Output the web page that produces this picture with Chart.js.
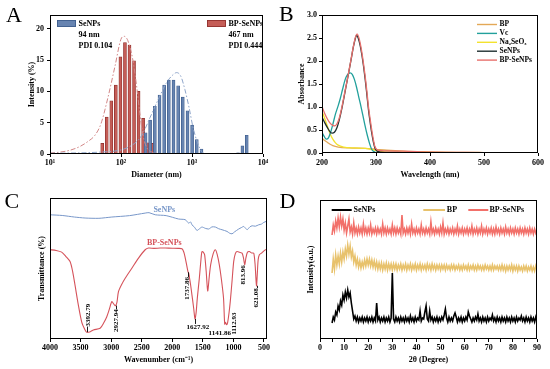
<!DOCTYPE html>
<html>
<head>
<meta charset="utf-8">
<script src="https://cdn.jsdelivr.net/npm/chart.js@4.4.1/dist/chart.umd.min.js"></script>
<style>
html,body{margin:0;padding:0;background:#ffffff;}
#wrap{position:relative;width:550px;height:369px;overflow:hidden;background:#fff;}
#wrap canvas{position:absolute;left:0;top:0;}
.panel{position:absolute;font-family:"Liberation Serif","Times New Roman",serif;font-size:22px;line-height:22px;color:#000;}
</style>
</head>
<body>
<div id="wrap">
  <canvas id="chartA" width="550" height="369"></canvas>
  <canvas id="chartB" width="550" height="369"></canvas>
  <canvas id="chartC" width="550" height="369"></canvas>
  <canvas id="chartD" width="550" height="369"></canvas>
  <div class="panel" style="left:6px;top:4px">A</div>
  <div class="panel" style="left:279px;top:2.5px">B</div>
  <div class="panel" style="left:4.5px;top:189.5px">C</div>
  <div class="panel" style="left:279.5px;top:189.5px">D</div>
</div>
<script>
// ================= DATA =================
// Panel A – DLS size distribution
const sizeBPSeNPs = [54.4, 63.0, 73.0, 84.6, 98.1, 113.7, 131.7, 152.6, 176.8, 204.9, 237.4, 275.1];
const intensityBPSeNPs = [1.7, 5.9, 8.5, 11.0, 15.5, 17.8, 17.4, 14.9, 10.0, 5.7, 1.8, 1.7];
const sizeSeNPs = [222, 257, 300, 349, 405, 472, 549, 638, 742, 865, 1003, 1168, 1360, 4449, 5129, 5902];
const intensitySeNPs = [3.4, 5.4, 7.6, 9.4, 11.0, 11.8, 11.8, 10.9, 9.1, 6.9, 4.6, 2.3, 0.8, 0.2, 1.3, 3.0];
const fitBPSeNPsSize = [10, 13.8, 19.1, 26.4, 34.2, 43.0, 52.1, 65.4, 82.2, 99.6, 110, 125, 147, 167, 184, 206, 231, 272, 353];
const fitBPSeNPsValue = [0.15, 0.3, 0.6, 1.2, 2.0, 3.0, 4.8, 9.0, 14.0, 18.3, 18.8, 18.1, 15.0, 10.6, 6.5, 2.8, 1.0, 0.3, 0.05];
const fitSeNPsSize = [10, 50, 96, 133, 167, 197, 256, 334, 438, 545, 607, 697, 794, 910, 1036, 1197, 1362, 1560];
const fitSeNPsValue = [0.1, 0.3, 0.6, 1.2, 2.0, 3.0, 5.8, 8.7, 11.4, 12.7, 13.0, 12.4, 10.3, 7.4, 4.2, 1.8, 0.4, 0];
const diameterTicks = [10, 100, 1000, 10000];
const diameterTickLabels = ['10\u00B9', '10\u00B2', '10\u00B3', '10\u2074'];
const intensityTicks = [0, 5, 10, 15, 20];
const legendSeNPsText = ['SeNPs', '94 nm', 'PDI 0.104'];
const legendBPSeNPsText = ['BP-SeNPs', '467 nm', 'PDI 0.444'];

// Panel B – UV-Vis
const wlBP = [200,205,210,215,220,230,250,280,300,320,350,400,450,500,600];
const absBP = [0.32,0.27,0.23,0.19,0.16,0.13,0.11,0.10,0.08,0.06,0.04,0.025,0.015,0.01,0.003];
const wlVc = [200,204,208,212,216,220,225,230,234,238,243,247,252,256,260,264,268,272,276,280,284,288,292,296,300,600];
const absVc = [0.45,0.36,0.30,0.33,0.45,0.62,0.85,1.03,1.19,1.38,1.60,1.70,1.74,1.71,1.60,1.43,1.22,1.02,0.80,0.58,0.38,0.21,0.08,0.03,0.01,0];
const wlNa2SeO3 = [200,205,210,215,220,225,230,240,260,280,295,305,320,400,600];
const absNa2SeO3 = [0.90,0.75,0.58,0.42,0.30,0.22,0.17,0.13,0.11,0.10,0.07,0.04,0.02,0.01,0];
const wlSeNPs = [200,205,210,215,219,223,228,232,237,243,249,254,258,262,264,267,271,274,277,280,283,286,289,292,295,298,302,310,350,400,600];
const absSeNPs = [0.78,0.66,0.55,0.46,0.43,0.45,0.56,0.72,0.98,1.35,1.72,2.04,2.30,2.50,2.56,2.50,2.32,2.12,1.88,1.60,1.28,0.95,0.68,0.44,0.25,0.11,0.04,0.02,0.01,0.005,0];
const wlBPSeNPs = [200,205,210,215,220,224,228,232,237,243,249,254,258,262,265,268,271,274,277,280,283,286,289,292,295,298,302,310,350,400,500,600];
const absBPSeNPs = [1.01,0.86,0.74,0.65,0.60,0.59,0.64,0.76,1.01,1.37,1.73,2.05,2.31,2.52,2.59,2.52,2.37,2.17,1.93,1.66,1.35,1.01,0.75,0.51,0.30,0.14,0.07,0.05,0.04,0.02,0.01,0];
const wavelengthTicks = [200, 300, 400, 500, 600];
const absorbanceTicks = [0, 0.5, 1.0, 1.5, 2.0, 2.5, 3.0];

// Panel C – FT-IR
const wnSeNPs = [4000,3800,3600,3426,3200,2989,2700,2443,2380,2279,2100,1897,1787,1733,1700,1678,1640,1596,1560,1514,1460,1404,1350,1295,1240,1186,1104,1060,1022,980,913,870,831,800,775,730,693,640,585,540,503,464,450];
const trSeNPs = [88.1,87.6,86.5,85.8,85.6,86.5,87.5,89.3,89.6,88.1,87.5,85.1,84.6,82.2,83.0,81.0,79.5,77.0,78.0,79.4,78.5,78.0,79.5,79.4,78.2,77.5,76.3,75.0,74.6,76.0,78.0,79.0,79.8,78.5,77.5,79.5,80.3,80.0,81.0,81.5,82.7,83.4,84.5];
const wnBPSeNPs = [4000,3900,3809,3740,3672,3630,3590,3536,3481,3426,3399,3340,3290,3180,3120,3071,3030,2989,2960,2930,2905,2880,2830,2770,2661,2552,2443,2389,2300,2200,2115,2000,1900,1841,1810,1787,1760,1743,1730,1721,1700,1678,1650,1628,1610,1590,1557,1530,1514,1490,1470,1445,1420,1395,1372,1330,1295,1265,1230,1195,1161,1142,1128,1113,1095,1070,1051,1020,995,968,940,900,858,835,814,795,770,738,700,667,645,630,621,610,595,575,541,500,475,450];
const trBPSeNPs = [63.3,62.8,61.6,58.5,54.9,48.0,38.0,24.0,12.0,6.4,4.8,5.2,6.4,7.6,11.5,15.8,21.0,26.5,25.0,23.5,26.0,33.6,38.5,43.1,50.2,57.4,63.3,64.5,64.3,64.5,64.5,64.4,64.3,64.0,61.5,57.4,51.5,47.8,46.5,44.3,38.5,31.3,22.0,14.2,18.5,29.0,43.1,56.5,62.0,61.5,59.7,48.0,34.1,44.0,52.6,60.5,63.3,60.0,52.6,42.0,28.9,10.5,11.8,10.2,11.5,19.0,26.5,42.0,54.9,60.5,62.0,61.5,60.9,57.5,52.6,57.5,61.5,62.0,61.0,60.9,53.0,42.0,37.7,45.0,56.0,59.7,60.9,62.5,63.3,63.5];
const irPeakWavenumbers = [3392.79, 2927.94, 1737.86, 1627.92, 1141.86, 1112.93, 813.96, 621.08];
const irPeakLabels = ['3392.79', '2927.94', '1737.86', '1627.92', '1141.86', '1112.93', '813.96', '621.08'];
const wavenumberTicks = [4000, 3500, 3000, 2500, 2000, 1500, 1000, 500];

// Panel D – XRD (2θ grid 5°–90°, step 0.5°)
const twoTheta = Array.from({length: 171}, (_, i) => 5 + i * 0.5);
const xrdSeNPs = [
 16,22,19,27,24,33,29,38,34,44, 39,47,41,49,42,46,36,28,20,23,
 18,22,17,21,18,22,17,21,18,22, 17,21,18,22,17,21,18,36,19,22,
 17,21,18,22,17,21,18,22,17,21, 66,20,17,22,18,21,17,22,18,21,
 17,22,18,21,17,23,18,21,17,22, 18,21,19,28,18,21,20,27,33,20,
 18,28,19,22,17,21,18,22,17,21, 18,22,19,24,30,21,17,22,18,21,
 18,23,26,22,17,21,18,22,17,21, 18,22,19,27,23,20,17,21,18,22,
 19,25,18,21,17,22,18,21,17,22, 18,21,19,24,18,21,17,22,18,21,
 17,22,18,21,17,22,18,21,17,22, 18,21,17,22,18,21,19,23,18,21,
 17,22,18,21,17,22,18,21,17,22, 18];
const xrdBP = [
 66,80,70,84,74,83,75,86,77,87, 80,90,83,94,85,93,82,88,77,83,
 74,80,72,78,71,77,72,79,73,80, 74,80,73,79,72,78,71,77,70,76,
 70,76,69,75,70,76,69,75,70,75, 69,75,70,75,69,74,70,75,69,74,
 70,75,69,74,70,75,69,74,70,75, 69,74,70,75,69,74,70,74,69,75,
 70,74,69,75,70,74,69,74,70,74, 69,74,70,74,69,74,70,73,69,74,
 70,74,69,73,70,74,69,73,69,74, 70,73,69,74,69,73,70,74,69,73,
 69,74,70,73,69,73,69,74,70,73, 69,73,69,74,69,73,70,73,69,73,
 69,74,69,73,68,73,69,73,69,74, 68,73,69,73,68,73,69,72,68,73,
 69,73,68,72,69,73,68,72,68,73, 69];
const xrdBPSeNPs = [
 104,114,108,118,111,121,112,122,113,120, 109,116,106,113,120,107,112,105,116,106,
 111,105,112,106,111,105,115,106,111,105, 111,106,114,105,110,106,111,105,111,106,
 110,105,115,106,111,105,111,106,110,105, 114,106,111,105,111,106,110,105,124,106,
 110,105,111,106,111,105,115,106,110,105, 111,106,110,105,114,106,110,105,111,106,
 110,105,117,106,110,105,111,106,110,105, 112,106,116,105,110,106,111,105,110,106,
 111,105,110,106,113,105,110,106,111,105, 110,106,111,105,110,106,113,105,110,106,
 111,105,110,106,113,105,110,106,111,105, 110,106,111,105,110,105,112,106,110,105,
 111,106,110,105,112,106,110,105,111,106, 110,105,111,106,110,105,111,106,110,105,
 111,106,110,105,111,106,110,105,110,106, 109];
const twoThetaTicks = [0,5,10,15,20,25,30,35,40,45,50,55,60,65,70,75,80,85,90];

// ================= HELPERS =================
const FONT_FAMILY = '"Liberation Serif", "Times New Roman", serif';
Chart.defaults.font.family = FONT_FAMILY;
Chart.defaults.font.size = 8;
Chart.defaults.font.weight = 'bold';
Chart.defaults.color = '#000';
Chart.defaults.animation = false;
Chart.defaults.responsive = false;
Chart.defaults.plugins.legend.display = false;
Chart.defaults.plugins.tooltip.enabled = false;

function pts(xs, ys) { return xs.map((x, i) => ({x: x, y: ys[i]})); }

function axisX(o) {
  return {
    type: o.type || 'linear', min: o.min, max: o.max, reverse: !!o.reverse, offset: false,
    border: {display: false},
    grid: {display: true, drawOnChartArea: false, drawTicks: true, tickLength: 3, tickColor: '#000', tickWidth: 1, offset: false},
    ticks: {padding: o.labelPad, autoSkip: false, maxRotation: 0, minRotation: 0, callback: o.labels,
            font: {size: 8, weight: 'bold'}, color: '#000'},
    afterBuildTicks: s => { s.ticks = o.ticks.map(v => ({value: v})); },
    afterFit: s => { s.height = o.height; },
    title: {display: true, text: o.title, font: {size: 8, weight: 'bold'}, color: '#000',
            padding: {top: 0, bottom: o.titlePad}}
  };
}
function axisY(o) {
  const ax = {
    type: 'linear', min: o.min, max: o.max,
    border: {display: false},
    grid: {display: !!o.ticks, drawOnChartArea: false, drawTicks: true, tickLength: 3, tickColor: '#000', tickWidth: 1},
    ticks: {display: !!o.ticks, padding: o.labelPad || 2, callback: o.labels, font: {size: 8, weight: 'bold'}, color: '#000'},
    afterFit: s => { s.width = o.width; },
    title: {display: true, text: o.title, font: {size: 8, weight: 'bold'}, color: '#000',
            padding: {top: o.titlePad, bottom: 0}}
  };
  if (o.ticks) ax.afterBuildTicks = s => { s.ticks = o.ticks.map(v => ({value: v})); };
  return ax;
}
const framePlugin = {
  id: 'frame',
  afterDatasetsDraw(chart) {
    const {ctx, chartArea: a} = chart;
    ctx.save();
    ctx.strokeStyle = '#000'; ctx.lineWidth = 1;
    const L = Math.round(a.left), T = Math.round(a.top), R = Math.round(a.right), B = Math.round(a.bottom);
    ctx.strokeRect(L + 0.5, T + 0.5, R - L - 1, B - T - 1);
    ctx.restore();
  }
};
function lineItem(ctx, color, x1, x2, y, w, text, tx) {
  ctx.strokeStyle = color; ctx.lineWidth = w;
  ctx.beginPath(); ctx.moveTo(x1, y); ctx.lineTo(x2, y); ctx.stroke();
  ctx.fillStyle = '#000'; ctx.fillText(text, tx, y);
}

// ================= PANEL A =================
const legendAPlugin = {
  id: 'legendA',
  afterDraw(chart) {
    const {ctx, chartArea: a} = chart;
    const ds = chart.data.datasets;
    const blocks = [{set: ds[2], lines: legendSeNPsText, dx: 7}, {set: ds[3], lines: legendBPSeNPsText, dx: 157}];
    ctx.save();
    ctx.font = 'bold 8px ' + FONT_FAMILY;
    ctx.textBaseline = 'middle'; ctx.textAlign = 'left';
    blocks.forEach(b => {
      const bx = a.left + b.dx, by = a.top + 5;
      ctx.fillStyle = b.set.backgroundColor; ctx.fillRect(bx, by, 19, 7);
      ctx.strokeStyle = b.set.borderColor; ctx.lineWidth = 0.8; ctx.strokeRect(bx + 0.4, by + 0.4, 18.2, 6.2);
      ctx.fillStyle = '#000';
      b.lines.forEach((t, i) => ctx.fillText(t, bx + 21.5, a.top + 8.5 + i * 11));
    });
    ctx.restore();
  }
};
new Chart(document.getElementById('chartA'), {
  type: 'bar',
  data: {datasets: [
    {type: 'line', label: 'SeNPs fit', data: pts(fitSeNPsSize, fitSeNPsValue), borderColor: '#8da4c9', borderWidth: 1,
     borderDash: [5, 2, 1.5, 2], pointRadius: 0, cubicInterpolationMode: 'monotone', order: 0},
    {type: 'line', label: 'BP-SeNPs fit', data: pts(fitBPSeNPsSize, fitBPSeNPsValue), borderColor: '#d28686', borderWidth: 1,
     borderDash: [5, 2, 1.5, 2], pointRadius: 0, cubicInterpolationMode: 'monotone', order: 0},
    {label: 'SeNPs', data: pts(sizeSeNPs, intensitySeNPs), backgroundColor: '#6784b1', borderColor: '#3b5a8a',
     borderWidth: 0.7, barThickness: 3, grouped: false, order: 1},
    {label: 'BP-SeNPs', data: pts(sizeBPSeNPs, intensityBPSeNPs), backgroundColor: '#c55d57', borderColor: '#8b2e2b',
     borderWidth: 0.7, barThickness: 3, grouped: false, order: 1}
  ]},
  options: {
    layout: {padding: {left: 20, top: 15, right: 287, bottom: 187}},
    scales: {
      x: axisX({type: 'logarithmic', min: 10, max: 10000, ticks: diameterTicks, height: 28, labelPad: 1.5, titlePad: 2.2,
                title: 'Diameter (nm)', labels: v => diameterTickLabels[diameterTicks.indexOf(v)]}),
      y: axisY({min: 0, max: 22.2, ticks: intensityTicks, width: 30, labelPad: 3, titlePad: 6.9, title: 'Intensity (%)',
                labels: v => String(v)})
    }
  },
  plugins: [framePlugin, legendAPlugin]
});

// ================= PANEL B =================
const legendBPlugin = {
  id: 'legendB',
  afterDraw(chart) {
    const {ctx, chartArea: a} = chart;
    ctx.save();
    ctx.font = 'bold 7.5px ' + FONT_FAMILY;
    ctx.textBaseline = 'middle'; ctx.textAlign = 'left';
    chart.data.datasets.forEach((d, i) => {
      const y = a.top + 9.5 + i * 8.9;
      lineItem(ctx, d.borderColor, a.left + 155, a.left + 175, y, 1.4, d.label, a.left + 177.5);
    });
    ctx.restore();
  }
};
function uvSet(label, xs, ys, color, order) {
  return {label: label, data: pts(xs, ys), borderColor: color, backgroundColor: color, borderWidth: 1.3,
          pointRadius: 0, cubicInterpolationMode: 'monotone', order: order};
}
new Chart(document.getElementById('chartB'), {
  type: 'line',
  data: {datasets: [
    uvSet('BP', wlBP, absBP, '#e3a857', 5),
    uvSet('Vc', wlVc, absVc, '#22a09c', 3),
    uvSet('Na\u2082SeO\u2083', wlNa2SeO3, absNa2SeO3, '#f3e22e', 4),
    uvSet('SeNPs', wlSeNPs, absSeNPs, '#1f2f30', 2),
    uvSet('BP-SeNPs', wlBPSeNPs, absBPSeNPs, '#e8706d', 1)
  ]},
  options: {
    layout: {padding: {left: 292, top: 15, right: 12, bottom: 188}},
    scales: {
      x: axisX({min: 200, max: 600, ticks: wavelengthTicks, height: 28, labelPad: 2.5, titlePad: 1.2,
                title: 'Wavelength (nm)', labels: v => String(v)}),
      y: axisY({min: 0, max: 3.0, ticks: absorbanceTicks, width: 30, labelPad: 2, titlePad: 4.9, title: 'Absorbance',
                labels: v => v.toFixed(1)})
    }
  },
  plugins: [framePlugin, legendBPlugin]
});

// ================= PANEL C =================
function interpAt(data, x) {
  for (let i = 0; i < data.length - 1; i++) {
    const p = data[i], q = data[i + 1];
    if ((x - p.x) * (x - q.x) <= 0) {
      const t = (x - p.x) / (q.x - p.x);
      return p.y + t * (q.y - p.y);
    }
  }
  return data[data.length - 1].y;
}
// label placement style for each peak: vertical?, dx, dy (px from the curve point)
const peakLabelStyle = [
  {rot: true, dx: 1, dy: -17}, {rot: true, dx: 0.5, dy: 15}, {rot: true, dx: -1.5, dy: 16},
  {rot: false, dx: 3, dy: 8.5}, {rot: false, dx: -5, dy: 9.5}, {rot: true, dx: 7.5, dy: -1},
  {rot: true, dx: -1.5, dy: 10}, {rot: true, dx: 0, dy: 12}
];
const irLabelPlugin = {
  id: 'irLabels',
  afterDatasetsDraw(chart) {
    const {ctx} = chart;
    const xs = chart.scales.x, ys = chart.scales.y;
    const sets = chart.data.datasets;
    ctx.save();
    ctx.font = 'bold 8px ' + FONT_FAMILY;
    ctx.textAlign = 'center'; ctx.textBaseline = 'middle';
    sets.forEach(d => {
      const px = xs.getPixelForValue(2130), py = ys.getPixelForValue(interpAt(d.data, 2130));
      ctx.fillStyle = d.borderColor; ctx.fillText(d.label, px, py - 5.5);
    });
    const data = sets[1].data;
    ctx.font = 'bold 7px ' + FONT_FAMILY;
    ctx.fillStyle = '#000'; ctx.strokeStyle = '#000'; ctx.lineWidth = 0.9;
    irPeakWavenumbers.forEach((wn, i) => {
      const st = peakLabelStyle[i];
      const px = xs.getPixelForValue(wn), py = ys.getPixelForValue(interpAt(data, wn));
      const cx = px + st.dx, cy = py + st.dy;
      const w = ctx.measureText(irPeakLabels[i]).width;
      ctx.save();
      ctx.translate(cx, cy);
      if (st.rot) ctx.rotate(-Math.PI / 2);
      ctx.fillText(irPeakLabels[i], 0, 0);
      ctx.restore();
      const half = st.rot ? w / 2 : 3.5;
      const edge = st.dy > 0 ? cy - half : cy + half;
      if (Math.abs(st.dx) < 4 && Math.abs(edge - py) > 1.5) {
        ctx.beginPath(); ctx.moveTo(Math.round(px) + 0.5, py); ctx.lineTo(Math.round(px) + 0.5, edge); ctx.stroke();
      }
    });
    ctx.restore();
  }
};
new Chart(document.getElementById('chartC'), {
  type: 'line',
  data: {datasets: [
    {label: 'SeNPs', data: pts(wnSeNPs, trSeNPs), borderColor: '#7897c9', borderWidth: 1, pointRadius: 0, tension: 0.25},
    {label: 'BP-SeNPs', data: pts(wnBPSeNPs, trBPSeNPs), borderColor: '#d5525a', borderWidth: 1.1, pointRadius: 0, tension: 0.25}
  ]},
  options: {
    layout: {padding: {left: 30, top: 198, right: 283, bottom: 4}},
    scales: {
      x: axisX({min: 450, max: 4000, reverse: true, ticks: wavenumberTicks, height: 26, labelPad: 0.8, titlePad: 0.2,
                title: 'Wavenumber (cm\u207B\u00B9)', labels: v => String(v)}),
      y: axisY({min: 0, max: 100, width: 20, titlePad: 6.9, title: 'Transmittance (%)'})
    }
  },
  plugins: [framePlugin, irLabelPlugin]
});

// ================= PANEL D =================
const legendDPlugin = {
  id: 'legendD',
  afterDraw(chart) {
    const {ctx, chartArea: a} = chart;
    const d = chart.data.datasets;
    const y = a.top + 10;
    ctx.save();
    ctx.font = 'bold 8px ' + FONT_FAMILY;
    ctx.textBaseline = 'middle'; ctx.textAlign = 'left';
    lineItem(ctx, d[0].borderColor, a.left + 11.7, a.left + 31.7, y, 2, d[0].label, a.left + 33.5);
    lineItem(ctx, d[1].borderColor, a.left + 103.3, a.left + 125, y, 2, d[1].label, a.left + 126.8);
    lineItem(ctx, d[2].borderColor, a.left + 148.3, a.left + 168.3, y, 2, d[2].label, a.left + 169.5);
    ctx.restore();
  }
};
new Chart(document.getElementById('chartD'), {
  type: 'line',
  data: {datasets: [
    {label: 'SeNPs', data: pts(twoTheta, xrdSeNPs), borderColor: '#000000', borderWidth: 1.6, pointRadius: 0, tension: 0},
    {label: 'BP', data: pts(twoTheta, xrdBP), borderColor: '#e8c26c', borderWidth: 1.6, pointRadius: 0, tension: 0},
    {label: 'BP-SeNPs', data: pts(twoTheta, xrdBPSeNPs), borderColor: '#f2706a', borderWidth: 1.6, pointRadius: 0, tension: 0}
  ]},
  options: {
    layout: {padding: {left: 300, top: 200, right: 13, bottom: 4}},
    scales: {
      x: axisX({min: 0, max: 90, ticks: twoThetaTicks, height: 26, labelPad: 1.5, titlePad: 0.2,
                title: '2\u03B8 (Degree)', labels: v => (v % 10 === 0 ? String(v) : '')}),
      y: axisY({min: 0, max: 139, width: 20, titlePad: 6.2, title: 'Intensity(a.u.)'})
    }
  },
  plugins: [framePlugin, legendDPlugin]
});
</script>
</body>
</html>
